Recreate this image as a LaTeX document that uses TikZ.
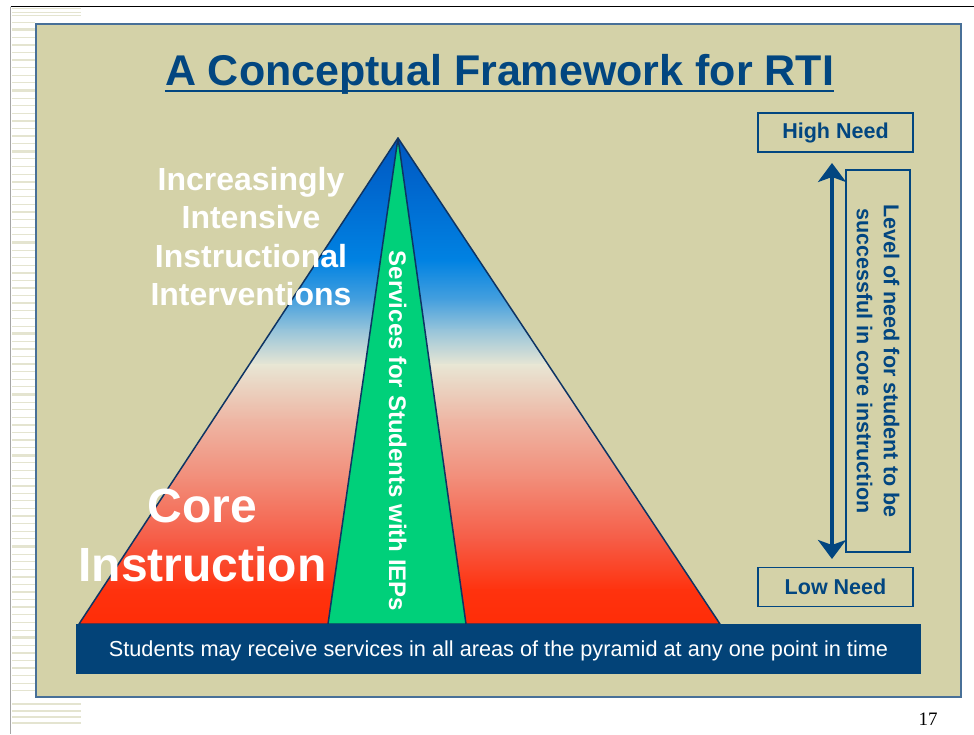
\documentclass[tikz,border=0pt]{standalone}
\usepackage{fontspec}
\setmainfont{Liberation Sans}
\newfontfamily\pagenumfont{Liberation Serif}
\usetikzlibrary{arrows.meta,calc}
\definecolor{panel}{RGB}{212,210,168}
\definecolor{panelline}{RGB}{72,112,152}
\definecolor{navy}{RGB}{2,70,128}
\definecolor{bandblue}{RGB}{3,67,120}
\definecolor{outline}{RGB}{14,52,100}
\definecolor{iepgreen}{RGB}{0,208,122}
\definecolor{stripe}{RGB}{228,228,208}
\definecolor{g0}{RGB}{0,84,190}
\definecolor{g1}{RGB}{0,108,210}
\definecolor{g2}{RGB}{0,130,226}
\definecolor{g3}{RGB}{70,160,222}
\definecolor{g4}{RGB}{150,196,218}
\definecolor{g5}{RGB}{232,230,212}
\definecolor{g6}{RGB}{238,182,164}
\definecolor{g7}{RGB}{242,140,120}
\definecolor{g8}{RGB}{246,92,70}
\definecolor{g9}{RGB}{255,50,14}
\definecolor{g10}{RGB}{255,44,6}
\tikzset{
  needbox/.style={draw=navy, line width=1.6pt, minimum width=155pt, minimum height=39pt, inner sep=0pt, text=navy, font=\bfseries\fontsize{21.5}{26}\selectfont},
  whitetext/.style={text=white, inner sep=0pt, align=center},
  stripeline/.style={draw=stripe}
}
\begin{document}
\begin{tikzpicture}[x=1pt,y=-1pt]
\useasboundingbox (0,0) rectangle (974,734);
\fill[white] (0,0) rectangle (974,734);
% left stripes
\foreach \i in {0,...,88}{
  \pgfmathsetmacro\w{{1,2.6,1,1.4,1,2.2,1,1.2}[mod(\i,8)]}
  \draw[stripeline, line width=\w pt] (12,22+7.6*\i) -- (35,22+7.6*\i);
}
\foreach \y/\w in {8.3/1.2,12.3/1.6,15.7/1.2,704/1.4,711/2.2,717/1.6,723/1.2}
  \draw[stripeline, line width=\w pt] (12,\y) -- (81,\y);
\draw[black, line width=1.4pt] (10.7,6.7) -- (974,6.7);
\draw[black!35, line width=1.4pt] (10.7,6.7) -- (10.7,734);
% panel
\fill[panel] (36,24) rectangle (961,697);
\draw[panelline, line width=1.3pt] (36,24) rectangle (961,697);
% title
\node[text=navy, inner sep=0pt, anchor=base, font=\bfseries\fontsize{43}{50}\selectfont] (title) at (499.5,85) {A Conceptual Framework for RTI};
\draw[navy, line width=2.6pt] ($(title.base west)+(0,6)$) -- ($(title.base east)+(0,6)$);
% pyramid
\coordinate (apex) at (398,138);
\coordinate (bl) at (79,624);
\coordinate (br) at (720,624);
\coordinate (gl) at (328,624);
\coordinate (gr) at (466,624);
\begin{scope}
\clip (apex) -- (bl) -- (br) -- cycle;
\foreach \ya/\yb/\ca/\cb in {130/200/g0/g1, 200/260/g1/g2, 260/300/g2/g3, 300/330/g3/g4, 330/365/g4/g5, 365/420/g5/g6, 420/480/g6/g7, 480/540/g7/g8, 540/590/g8/g9, 590/630/g9/g10}
  \shade[top color=\ca, bottom color=\cb] (70,\ya-0.4) rectangle (730,\yb+0.4);
\end{scope}
\draw[outline, line width=1.5pt, line join=round] (apex) -- (bl) -- (br) -- cycle;
\draw[outline, line width=1.5pt, fill=iepgreen, line join=round] (apex) -- (gl) -- (gr) -- cycle;
% bottom band
\node[fill=bandblue, minimum width=845pt, minimum height=50pt, inner sep=0pt, text depth=0pt, text=white, font=\fontsize{21.7}{26}\selectfont] (band) at (498.5,649) {Students may receive services in all areas of the pyramid at any one point in time};
% pyramid texts
\node[whitetext, font=\bfseries\fontsize{32}{38.3}\selectfont] (intens) at (251,236.5) {Increasingly\\Intensive\\Instructional\\Interventions};
\node[whitetext, font=\bfseries\fontsize{48}{59}\selectfont] (core) at (202.5,535) {Core\\Instruction};
\node[whitetext, anchor=base, rotate=-90, font=\bfseries\fontsize{24}{28}\selectfont] (iep) at (389,431) {Services for Students with IEPs};
% right side
\node[needbox] (high) at (835.5,132.5) {High Need};
\node[needbox] (low) at (835.5,587) {Low Need};
\node[draw=navy, line width=1.6pt, minimum width=382pt, minimum height=64pt, inner sep=0pt, rotate=-90, align=center, text=navy, font=\bfseries\fontsize{21.5}{27}\selectfont] (level) at (878,361) {Level of need for student to be\\successful in core instruction};
\coordinate (atop) at (832,163);
\coordinate (abot) at (832,559);
\draw[navy, line width=4pt, {Stealth[length=19pt,width=28pt,inset=5pt]}-{Stealth[length=19pt,width=28pt,inset=5pt]}] (atop) -- (abot);
% page number
\node[inner sep=0pt, font=\pagenumfont\fontsize{19}{22}\selectfont] (pnum) at (928,719) {17};
\end{tikzpicture}
\end{document}
